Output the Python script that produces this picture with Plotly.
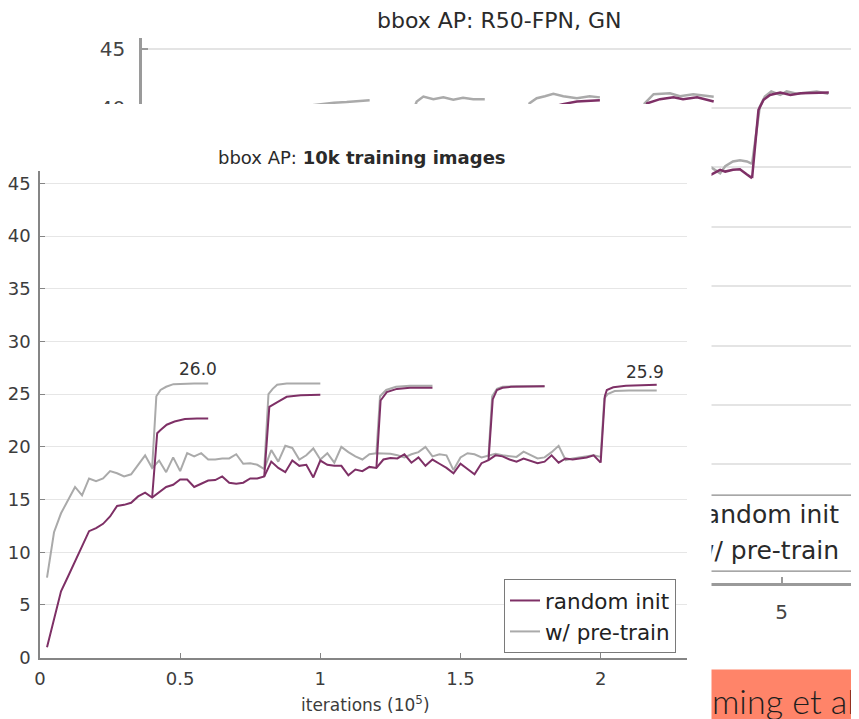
import plotly.graph_objects as go

W, H = 859, 719

# ---------------- front chart: bbox AP, 10k training images ----------------
series_names = ["random init", "w/ pre-train"]

front_iters = [0.025, 0.05, 0.075, 0.1, 0.125, 0.15, 0.175, 0.2, 0.225, 0.25,
               0.275, 0.3, 0.325, 0.35, 0.375, 0.4, 0.425, 0.45, 0.475, 0.5,
               0.525, 0.55, 0.575, 0.6, 0.625, 0.65, 0.675, 0.7, 0.725, 0.75,
               0.775, 0.8, 0.825, 0.85, 0.875, 0.9, 0.925, 0.95, 0.975, 1.0,
               1.025, 1.05, 1.075, 1.1, 1.125, 1.15, 1.175, 1.2, 1.225, 1.25,
               1.275, 1.3, 1.325, 1.35, 1.375, 1.4, 1.425, 1.45, 1.475, 1.5,
               1.525, 1.55, 1.575, 1.6, 1.625, 1.65, 1.675, 1.7, 1.725, 1.75,
               1.775, 1.8, 1.825, 1.85, 1.875, 1.9, 1.925, 1.95, 1.975, 2.0]

front_random = [1.0, 3.8, 6.3, 7.7, 9.1, 10.6, 12.0, 12.3, 12.7, 13.4,
                14.4, 14.5, 14.7, 15.3, 15.65, 15.2, 15.7, 16.2, 16.4, 16.9,
                16.9, 16.2, 16.5, 16.8, 16.85, 17.2, 16.6, 16.5, 16.6, 17.0,
                17.0, 17.2, 18.6, 18.0, 17.6, 18.7, 18.2, 18.3, 17.1, 18.7,
                18.3, 18.2, 18.2, 17.3, 17.85, 17.7, 18.1, 18.0, 18.8, 18.95,
                18.9, 19.3, 18.5, 19.0, 18.2, 18.8, 18.4, 18.0, 17.5, 18.4,
                17.9, 17.4, 18.45, 18.75, 19.2, 19.1, 18.8, 18.6, 18.9, 18.7,
                18.45, 18.6, 19.2, 18.5, 18.9, 18.8, 18.9, 19.0, 19.2, 18.5]

front_pretrain = [7.6, 11.9, 13.7, 15.0, 16.2, 15.4, 17.0, 16.75, 17.0, 17.7,
                  17.5, 17.2, 17.4, 18.3, 19.2, 18.0, 18.7, 17.6, 19.0, 17.7,
                  19.4, 19.1, 19.4, 18.8, 18.8, 18.9, 18.9, 19.3, 18.4, 18.45,
                  18.3, 17.9, 19.7, 18.6, 20.1, 19.9, 18.8, 19.2, 19.85, 18.8,
                  19.4, 18.5, 20.0, 19.5, 19.1, 18.8, 19.3, 19.4, 19.35, 19.35,
                  19.2, 19.0, 19.3, 19.5, 20.0, 19.1, 19.3, 19.2, 17.8, 19.0,
                  19.4, 19.3, 19.0, 19.2, 19.35, 19.2, 19.1, 19.05, 19.55, 19.2,
                  18.9, 19.0, 19.5, 20.1, 18.75, 18.9, 19.0, 19.05, 19.2, 19.05]

# learning-rate-drop branches
front_random_branch_iters = [
    [0.4, 0.418, 0.43, 0.452, 0.48, 0.517, 0.56, 0.6],
    [0.8, 0.818, 0.85, 0.88, 0.93, 1.0],
    [1.2, 1.215, 1.237, 1.273, 1.32, 1.4],
    [1.6, 1.615, 1.63, 1.65, 1.68, 1.74, 1.8],
    [2.0, 2.015, 2.022, 2.045, 2.09, 2.14, 2.2],
]
front_random_branch_ap = [
    [15.2, 21.3, 21.6, 22.1, 22.4, 22.65, 22.7, 22.7],
    [17.2, 23.8, 24.3, 24.75, 24.9, 24.95],
    [18.0, 24.4, 25.2, 25.5, 25.6, 25.6],
    [18.75, 24.5, 25.4, 25.6, 25.7, 25.7, 25.75],
    [18.5, 24.8, 25.4, 25.65, 25.8, 25.85, 25.9],
]
front_pretrain_branch_iters = [
    [0.4, 0.415, 0.43, 0.45, 0.476, 0.51, 0.55, 0.6],
    [0.8, 0.815, 0.83, 0.846, 0.88, 1.0],
    [1.2, 1.213, 1.235, 1.27, 1.32, 1.4],
    [1.6, 1.613, 1.63, 1.65, 1.7, 1.8],
    [2.0, 2.013, 2.025, 2.05, 2.1, 2.2],
]
front_pretrain_branch_ap = [
    [18.0, 24.8, 25.4, 25.7, 25.95, 26.0, 26.0, 26.0],
    [17.9, 25.0, 25.5, 25.9, 26.0, 26.0],
    [19.4, 24.8, 25.4, 25.7, 25.8, 25.8],
    [19.2, 24.8, 25.5, 25.7, 25.75, 25.75],
    [19.05, 24.6, 25.0, 25.3, 25.35, 25.35],
]
front_yticks = [0, 5, 10, 15, 20, 25, 30, 35, 40, 45]
front_xticks = [0, 0.5, 1, 1.5, 2]
front_xticklabels = ["0", "0.5", "1", "1.5", "2"]

# ---------------- back chart: bbox AP, R50-FPN, GN ----------------
back_iters = [0.1, 0.2, 0.3, 0.4, 0.5, 0.6, 0.7, 0.8, 0.9, 1.0,
              1.1, 1.2, 1.3, 1.4, 1.5, 1.6, 1.7, 1.8, 1.9, 2.0,
              2.1, 2.2, 2.3, 2.4, 2.5, 2.6, 2.7, 2.8, 2.9, 3.0,
              3.1, 3.2, 3.3, 3.4, 3.5, 3.6, 3.7, 3.8, 3.9, 4.0,
              4.1, 4.2, 4.3, 4.4, 4.45, 4.52, 4.56, 4.62, 4.675, 4.73, 4.77]
back_random = [5.0, 12.0, 17.0, 20.0, 22.5, 24.0, 25.5, 26.5, 27.4, 28.0,
               28.8, 29.3, 29.8, 30.2, 30.6, 31.0, 31.2, 31.5, 31.8, 32.0,
               32.2, 32.5, 32.6, 32.9, 33.0, 33.2, 33.3, 33.5, 33.6, 33.7,
               33.8, 34.0, 33.9, 34.1, 34.2, 34.1, 34.3, 34.4, 34.3, 34.5,
               34.4, 34.6, 34.5, 34.6, 34.4, 34.8, 34.65, 34.8, 34.85, 34.4, 34.1]
back_pretrain = [22.0, 27.0, 29.0, 30.5, 31.3, 32.0, 32.5, 32.8, 33.2, 33.5,
                 33.6, 33.9, 34.0, 34.2, 34.3, 34.4, 34.5, 34.6, 34.6, 34.7,
                 34.8, 34.8, 34.9, 34.9, 35.0, 35.0, 35.1, 35.0, 35.1, 35.0,
                 35.2, 35.1, 35.2, 35.3, 35.2, 35.3, 35.2, 35.3, 35.2, 35.3,
                 35.4, 35.3, 35.2, 35.3, 35.0, 34.5, 35.1, 35.5, 35.6, 35.5, 35.3]
back_random_branch_iters = [
    [1.2, 1.22, 1.3, 1.4, 1.5, 1.6, 1.7, 1.8],
    [2.1, 2.12, 2.2, 2.3, 2.4, 2.5, 2.6, 2.7],
    [3.0, 3.02, 3.1, 3.2, 3.29, 3.4, 3.5, 3.58],
    [3.9, 3.92, 3.95, 4.05, 4.156, 4.23, 4.34, 4.47],
    [4.77, 4.82, 4.86, 4.91, 4.99, 5.07, 5.15, 5.25, 5.37],
]
back_random_branch_ap = [
    [29.3, 37.5, 38.3, 38.7, 39.0, 39.2, 39.3, 39.4],
    [32.2, 38.5, 39.3, 39.7, 39.9, 40.0, 40.1, 40.2],
    [33.7, 39.0, 39.8, 40.1, 40.33, 40.55, 40.6, 40.65],
    [34.3, 39.5, 40.4, 40.75, 40.9, 40.75, 40.9, 40.55],
    [34.1, 39.85, 40.7, 41.1, 41.3, 41.1, 41.25, 41.25, 41.3],
]
back_pretrain_branch_iters = [
    [1.2, 1.22, 1.3, 1.4, 1.5, 1.6, 1.65, 1.7, 1.78],
    [2.1, 2.12, 2.148, 2.2, 2.278, 2.356, 2.434, 2.51, 2.59, 2.68],
    [3.0, 3.015, 3.03, 3.086, 3.15, 3.216, 3.294, 3.4, 3.5, 3.58],
    [3.9, 3.915, 3.93, 4.0, 4.128, 4.206, 4.31, 4.415, 4.47],
    [4.77, 4.83, 4.87, 4.92, 4.99, 5.04, 5.12, 5.2, 5.275, 5.366],
]
back_pretrain_branch_ap = [
    [33.9, 39.8, 40.2, 40.35, 40.45, 40.5, 40.55, 40.6, 40.65],
    [34.8, 39.8, 40.55, 40.97, 40.75, 40.9, 40.7, 40.87, 40.75, 40.75],
    [35.0, 39.5, 40.4, 40.83, 41.0, 41.2, 41.0, 40.83, 41.0, 40.9],
    [35.2, 39.8, 40.4, 41.17, 41.25, 41.0, 41.17, 41.05, 40.95],
    [35.3, 40.1, 40.97, 41.4, 41.1, 41.4, 41.2, 41.3, 41.4, 41.2],
]
back_yticks = [0, 5, 10, 15, 20, 25, 30, 35, 40, 45]
back_xticks = [5]

# ---------------- styling ----------------
PURPLE = "#7E3066"
GRAY = "#AAAAAA"
FONT = "DejaVu Sans"
TXT = "#333333"

# the page shows the figure 8 px right / down of the window origin
OFF = 8


def px_x(p):
    return (p - OFF) / W


def px_y(p):
    return 1 - (p - OFF) / H


FRONT_DOM_X = [px_x(40), px_x(687)]
FRONT_DOM_Y = [px_y(657.7), px_y(171)]
BACK_DOM_X = [px_x(142), 1.0]
BACK_DOM_Y = [px_y(583), px_y(38)]
COVER_DOM_X = [0, px_x(711.5)]
COVER_DOM_Y = [0, px_y(104)]
BACK_XMAX = (W + OFF - 142) / 127.9

fig = go.Figure()


def add_series(xa, ya, main_x, main_y, bx, by, color, width, name, legend, rank):
    fig.add_trace(go.Scatter(x=main_x, y=main_y, mode="lines", xaxis=xa, yaxis=ya,
                             line=dict(color=color, width=width), name=name,
                             legendgroup=name, showlegend=legend, legendrank=rank,
                             hoverinfo="skip"))
    for x, y in zip(bx, by):
        fig.add_trace(go.Scatter(x=x, y=y, mode="lines", xaxis=xa, yaxis=ya,
                                 line=dict(color=color, width=width), name=name,
                                 legendgroup=name, showlegend=False,
                                 hoverinfo="skip"))


# back chart (drawn first, underneath)
add_series("x", "y", back_iters, back_pretrain, back_pretrain_branch_iters,
           back_pretrain_branch_ap, GRAY, 2.5, series_names[1], False, 2)
add_series("x", "y", back_iters, back_random, back_random_branch_iters,
           back_random_branch_ap, PURPLE, 2.5, series_names[0], False, 1)

# back chart legend box (partly hidden behind the front picture)
BL_X0, BL_X1, BL_Y0, BL_Y1 = 3.9, 5.55, 1.0, 7.4
fig.add_trace(go.Scatter(x=[BL_X0, BL_X1, BL_X1, BL_X0, BL_X0],
                         y=[BL_Y0, BL_Y0, BL_Y1, BL_Y1, BL_Y0],
                         mode="lines", fill="toself", fillcolor="white",
                         line=dict(color="#8a8a8a", width=1.3),
                         xaxis="x", yaxis="y", showlegend=False, hoverinfo="skip"))
fig.add_trace(go.Scatter(x=[5.45, 5.45], y=[5.56, 2.53], mode="text",
                         text=series_names, textposition="middle left",
                         textfont=dict(family=FONT, size=25, color="#2a2a2a"),
                         xaxis="x", yaxis="y", showlegend=False, hoverinfo="skip"))

# cover panel (white background of the front picture)
fig.add_trace(go.Scatter(x=[None], y=[None], xaxis="x2", yaxis="y2",
                         showlegend=False, hoverinfo="skip"))

# front chart
add_series("x3", "y3", front_iters, front_pretrain, front_pretrain_branch_iters,
           front_pretrain_branch_ap, GRAY, 2, series_names[1], True, 2)
add_series("x3", "y3", front_iters, front_random, front_random_branch_iters,
           front_random_branch_ap, PURPLE, 2, series_names[0], True, 1)

axis_common = dict(showline=True, zeroline=False, ticks="inside", fixedrange=True,
                   automargin=False)

fig.update_layout(
    width=W, height=H, autosize=False,
    margin=dict(l=0, r=0, t=0, b=0, pad=0, autoexpand=False),
    paper_bgcolor="white", plot_bgcolor="white",
    font=dict(family=FONT, color=TXT),
    xaxis=dict(domain=BACK_DOM_X, range=[0, BACK_XMAX], anchor="y", showgrid=False,
               linecolor="#9a9a9a", linewidth=2.5, tickcolor="#9a9a9a", ticklen=6,
               tickwidth=1.5, tickvals=back_xticks, ticklabelstandoff=9,
               tickfont=dict(family=FONT, size=20, color="#444444"), **axis_common),
    yaxis=dict(domain=BACK_DOM_Y, range=[0, 45.9], anchor="x", showgrid=True,
               gridcolor="#e4e4e4", gridwidth=1.5, linecolor="#9a9a9a", linewidth=2.5,
               tickcolor="#9a9a9a", ticklen=6, tickwidth=1.5, tickvals=back_yticks,
               ticklabelstandoff=10,
               tickfont=dict(family=FONT, size=20, color="#444444"), **axis_common),
    xaxis2=dict(domain=COVER_DOM_X, range=[0, 1], anchor="y2", visible=False,
                fixedrange=True, automargin=False),
    yaxis2=dict(domain=COVER_DOM_Y, range=[0, 1], anchor="x2", visible=False,
                fixedrange=True, automargin=False),
    xaxis3=dict(domain=FRONT_DOM_X, range=[0, 2.308], anchor="y3", showgrid=False,
                linecolor="#858585", linewidth=1.6, tickcolor="#858585", ticklen=5,
                tickwidth=1.2, tickvals=front_xticks, ticktext=front_xticklabels,
                ticklabelstandoff=4,
                tickfont=dict(family=FONT, size=18, color="#3c3c3c"), **axis_common),
    yaxis3=dict(domain=FRONT_DOM_Y, range=[0, 46.17], anchor="x3", showgrid=True,
                gridcolor="#e6e6e6", gridwidth=1.2, linecolor="#858585", linewidth=1.6,
                tickcolor="#858585", ticklen=5, tickwidth=1.2, tickvals=front_yticks,
                ticklabelstandoff=4,
                tickfont=dict(family=FONT, size=18, color="#3c3c3c"), **axis_common),
    legend=dict(x=px_x(676), xanchor="right", y=px_y(579), yanchor="top",
                bgcolor="white", bordercolor="#7a7a7a", borderwidth=1,
                font=dict(family=FONT, size=21.5, color="#222222"),
                itemwidth=30, tracegroupgap=0, entrywidth=178,
                entrywidthmode="pixels"),
    showlegend=True,
)

annotations = [
    dict(text="bbox AP: R50-FPN, GN", x=px_x(499), y=px_y(21), xref="paper",
         yref="paper", xanchor="center", yanchor="middle", showarrow=False,
         font=dict(family=FONT, size=22, color="#2a2a2a")),
    dict(text="bbox AP: <b>10k training images</b>", x=px_x(362), y=px_y(157),
         xref="paper", yref="paper", xanchor="center", yanchor="middle",
         showarrow=False, font=dict(family=FONT, size=18, color="#2a2a2a")),
    dict(text="iterations (10<sup>5</sup>)", x=px_x(365), y=px_y(704), xref="paper",
         yref="paper", xanchor="center", yanchor="middle", showarrow=False,
         font=dict(family=FONT, size=17, color="#3c3c3c")),
    dict(text=f"{front_pretrain_branch_ap[0][-1]:.1f}",
         x=front_pretrain_branch_iters[0][-1] - 0.036,
         y=front_pretrain_branch_ap[0][-1] + 1.4, xref="x3", yref="y3",
         xanchor="center", yanchor="middle", showarrow=False,
         font=dict(family=FONT, size=17, color="#333333")),
    dict(text=f"{front_random_branch_ap[-1][-1]:.1f}",
         x=front_random_branch_iters[-1][-1] - 0.042,
         y=front_random_branch_ap[-1][-1] + 1.2, xref="x3", yref="y3",
         xanchor="center", yanchor="middle", showarrow=False,
         font=dict(family=FONT, size=17, color="#333333")),
    dict(text="ming et al.", x=px_x(711), y=px_y(669), xref="paper", yref="paper",
         xanchor="left", yanchor="top", showarrow=False, align="left",
         width=170, height=51, valign="bottom", borderpad=0, bgcolor="#FF8469",
         font=dict(family="Lato", size=34, color="#1e1e1e", weight=300)),
]
fig.update_layout(annotations=annotations)

fig.write_html("out.html")
